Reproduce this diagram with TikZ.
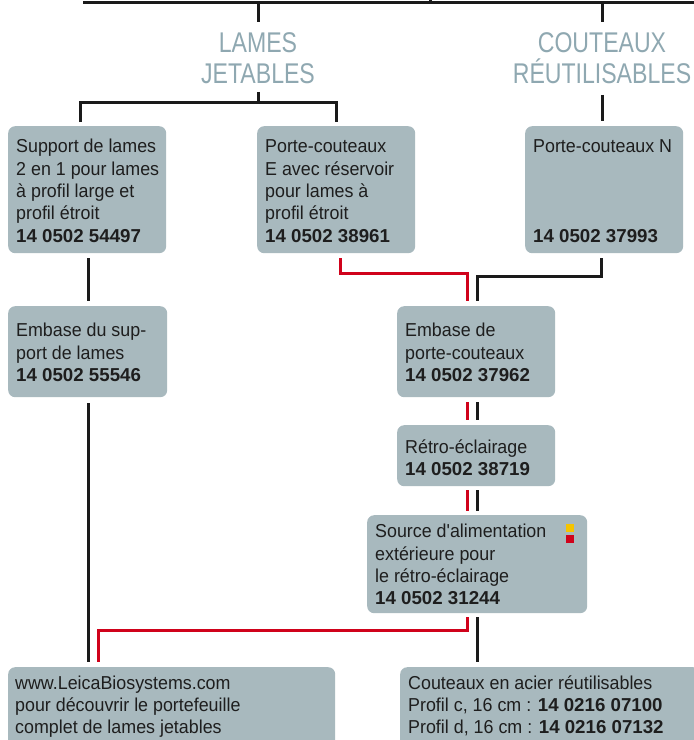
\documentclass[tikz,border=0pt]{standalone}
\usepackage{fontspec}
\setmainfont[Ligatures=TeXOff,UprightFeatures={FakeStretch=0.955},BoldFeatures={FakeStretch=1.0}]{Liberation Sans}
\newfontfamily\titlefont[FakeStretch=0.81]{Liberation Sans}
\usetikzlibrary{calc}
\definecolor{boxfill}{HTML}{A8B9BE}
\definecolor{titlecol}{HTML}{8FA8B1}
\definecolor{leicared}{HTML}{D0021B}
\definecolor{txt}{HTML}{1E1E1E}
\definecolor{blk}{HTML}{1A1A1A}
\definecolor{sqyellow}{HTML}{F5C400}
\begin{document}
\begin{tikzpicture}[x=1pt,y=-1pt,
  box/.style={fill=boxfill, rounded corners=7pt, anchor=north west, inner sep=0pt},
  tx/.style={anchor=north west, inner sep=0pt, text=txt, font=\fontsize{18.7}{22.3}\selectfont},
  ttl/.style={text=titlecol, align=center, font=\titlefont\fontsize{28.5}{31}\selectfont, inner sep=0pt},
  bl/.style={draw=blk, line width=3pt},
  rd/.style={draw=leicared, line width=3pt},
]
\useasboundingbox (0,0) rectangle (694,740);
\fill[white] (0,0) rectangle (694,740);

% titles
\node[ttl] (lames) at (258,58) {LAMES\\JETABLES};
\node[ttl] (couteaux) at (602,58) {COUTEAUX\\RÉUTILISABLES};

% boxes
\node[box, minimum width=158pt, minimum height=127pt] (b1) at (8,126) {};
\node[box, minimum width=158pt, minimum height=127pt] (b2) at (257,126) {};
\node[box, minimum width=158pt, minimum height=127pt] (b3) at (525,126) {};
\node[box, minimum width=159pt, minimum height=91pt] (b4) at (8,306) {};
\node[box, minimum width=158pt, minimum height=91pt] (b5) at (397,306) {};
\node[box, minimum width=158pt, minimum height=61pt] (b6) at (397,425) {};
\node[box, minimum width=220pt, minimum height=98pt] (b7) at (367,515) {};
\node[box, minimum width=327pt, minimum height=80pt] (b8) at (8,667) {};
\node[box, minimum width=300pt, minimum height=80pt] (b9) at (400,667) {};

% texts
\node[tx] (t1) at ($(b1.north west)+(8,11.1)$) {\begin{tabular}{@{}l@{}}Support de lames\\2 en 1 pour lames\\à profil large et\\profil étroit\\\textbf{14 0502 54497}\end{tabular}};
\node[tx] (t2) at ($(b2.north west)+(8,11.1)$) {\begin{tabular}{@{}l@{}}Porte-couteaux\\E avec réservoir\\pour lames à\\profil étroit\\\textbf{14 0502 38961}\end{tabular}};
\node[tx] (t3) at ($(b3.north west)+(8,11.1)$) {\begin{tabular}{@{}l@{}}Porte-couteaux N\\ \\ \\ \\\textbf{14 0502 37993}\end{tabular}};
\node[tx] (t4) at ($(b4.north west)+(8,15.1)$) {\begin{tabular}{@{}l@{}}Embase du sup-\\port de lames\\\textbf{14 0502 55546}\end{tabular}};
\node[tx] (t5) at ($(b5.north west)+(8,15.1)$) {\begin{tabular}{@{}l@{}}Embase de\\porte-couteaux\\\textbf{14 0502 37962}\end{tabular}};
\node[tx] (t6) at ($(b6.north west)+(8,12.7)$) {\begin{tabular}{@{}l@{}}Rétro-éclairage\\\textbf{14 0502 38719}\end{tabular}};
\node[tx] (t7) at ($(b7.north west)+(8,7.1)$) {\begin{tabular}{@{}l@{}}Source d'alimentation\\extérieure pour\\le rétro-éclairage\\\textbf{14 0502 31244}\end{tabular}};
\node[tx] (t8) at ($(b8.north west)+(7,6.4)$) {\begin{tabular}{@{}l@{}}www.LeicaBiosystems.com\\pour découvrir le portefeuille\\complet de lames jetables\end{tabular}};
\node[tx] (t9) at ($(b9.north west)+(8,6.4)$) {\begin{tabular}{@{}l@{}}Couteaux en acier réutilisables\\Profil c, 16 cm : \textbf{14 0216 07100}\\Profil d, 16 cm : \textbf{14 0216 07132}\end{tabular}};

% small squares
\fill[sqyellow] (566,524) rectangle (574,532);
\fill[leicared] (566,535) rectangle (574,543);

% top line
\coordinate (tl) at (83,2);
\coordinate (tr) at (694,2);
\coordinate (tick) at (430,-2);
\draw[bl] (tl) -- (tr);
\draw[bl] (tick) -- (tick |- tl);
\draw[bl] (lames.north |- tl) -- ($(lames.north)+(0,-10)$);
\draw[bl] (couteaux.north |- tl) -- ($(couteaux.north)+(0,-10)$);

% lames bracket
\coordinate (jl) at ($(lames.south)+(0,19)$);
\draw[bl] ($(lames.south)+(0,8)$) -- (jl);
\draw[bl] ($(b1.north west)+(72,-4)$) |- (jl) -| ($(b2.north west)+(79,-4)$);

% couteaux
\draw[bl] ($(couteaux.south)+(0,11)$) -- ($(couteaux.south |- b3.north)+(0,-5)$);

% b1 -> b4 -> b8
\draw[bl] ($(b1.south west)+(80,5)$) -- ($(b4.north west)+(80,-5)$);
\draw[bl] ($(b4.south west)+(80,6)$) -- ($(b8.north west)+(80,-5)$);

% b2 / b3 -> b5
\coordinate (r1) at ($(b5.north west)+(70,-5)$);
\coordinate (k1) at ($(b5.north west)+(80,-5)$);
\draw[rd] ($(b2.south west)+(83,5)$) |- ($(r1)+(0,-28)$) -- (r1);
\draw[bl] ($(b3.south west)+(76,5)$) |- ($(k1)+(0,-25)$) -- (k1);

% b5 -> b6 -> b7
\draw[rd] ($(b5.south west)+(70,5)$) -- ($(b6.north west)+(70,-5)$);
\draw[bl] ($(b5.south west)+(80,5)$) -- ($(b6.north west)+(80,-5)$);
\draw[rd] ($(b6.south west)+(70,4)$) -- ($(b7.north west)+(100,-4)$);
\draw[bl] ($(b6.south west)+(80,4)$) -- ($(b7.north west)+(110,-4)$);

% b7 -> b8 / b9
\draw[rd] ($(b7.south west)+(100,4)$) |- ($(b8.north west)+(90,-37)$) -- ($(b8.north west)+(90,-5)$);
\draw[bl] ($(b7.south west)+(110,4)$) -- ($(b9.north west)+(77,-5)$);
\end{tikzpicture}
\end{document}
